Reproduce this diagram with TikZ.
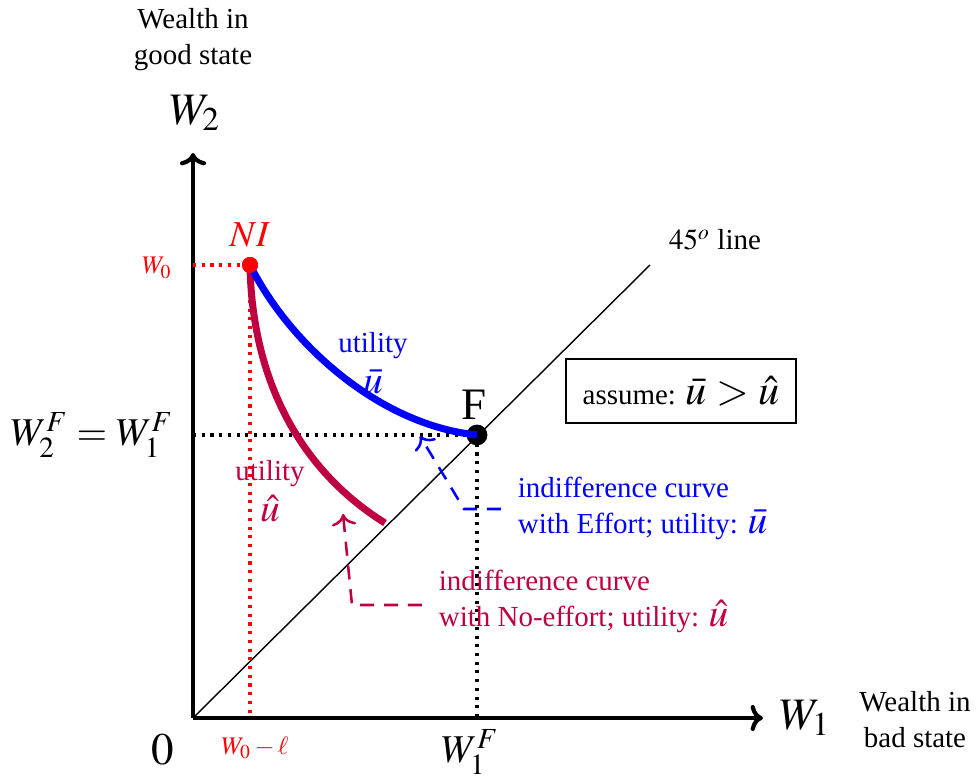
\documentclass[tikz,border=0pt]{standalone}
\usepackage{mathptmx}
\usepackage[no-math]{fontspec}
\setmainfont{Liberation Serif}
\usetikzlibrary{positioning,arrows.meta}
\begin{document}
\begin{tikzpicture}[x=0.0125cm,y=-0.0125cm,
  axis/.style={line width=1.5pt,-{To[scale=0.9]}},
  guide/.style={dotted,line width=1.1pt},
  dot/.style={circle,fill=#1,inner sep=0pt},
  curve/.style={line width=2.5pt,#1},
  hint/.style={line width=0.9pt,dash pattern=on 5pt off 3.5pt,-{To[scale=1.15]},shorten <=2.5pt,#1},
  txt/.style={font=\fontsize{10.3}{12.8}\selectfont},
  big/.style={font=\fontsize{16}{18}\selectfont}]
  \useasboundingbox (0,0) rectangle (976,783);
  % axes
  \coordinate (O) at (193,718);
  \coordinate (ytop) at (193,153);
  \coordinate (xend) at (763,718);
  \draw[axis] (O) -- (ytop);
  \draw[axis] (O) -- (xend);
  \coordinate (diagend) at (650,265);
  \draw[line width=0.5pt] (O) -- (diagend);
  % points
  \node[dot=red,minimum size=0.2cm] (NI) at (250,265) {};
  \node[dot=black,minimum size=0.26cm] (F) at (477,435) {};
  \coordinate (W0y) at (193,265);
  \coordinate (W0x) at (250,718);
  \coordinate (WFy) at (193,435);
  \coordinate (WFx) at (477,718);
  \draw[guide,red] (W0y) -- (NI.center);
  \draw[guide,red] (NI.center) -- (W0x);
  \draw[guide] (WFy) -- (F.center);
  \draw[guide] (F.center) -- (WFx);
  % indifference curves
  \coordinate (uhatend) at (385,523);
  \draw[curve=purple] (NI.center) .. controls (252,380) and (300,470) .. (uhatend);
  \draw[curve=blue] (NI.center) .. controls (290,345) and (380,425) .. (F.center);
  \node[dot=red,minimum size=0.2cm] at (NI) {};
  % labels
  \node[txt,align=center] (goodstate) at (193,40) {Wealth in\\good state};
  \node[big] (W2) at (195,113) {$W_2$};
  \node[big] (W1) at (805,718) {$W_1$};
  \node[txt,align=center] (badstate) at (915,720) {Wealth in\\bad state};
  \node[big] (zero) at (163,750) {$0$};
  \node[font=\fontsize{13}{15}\selectfont,text=red] (NIlbl) at (250,235) {$NI$};
  \node[font=\fontsize{9}{11}\selectfont,text=red] (W0lbl) at (157,268) {$W_0$};
  \node[font=\fontsize{9}{11}\selectfont,text=red] (W0llbl) at (255,748) {$W_0-\ell$};
  \node[font=\fontsize{14}{16}\selectfont] (WFlbl) at (92,435) {$W_2^F=W_1^F$};
  \node[font=\fontsize{14}{16}\selectfont] (W1Flbl) at (470,752) {$W_1^F$};
  \node[big] (Flbl) at (474,405) {F};
  \node[txt] (lbl45) at (715,240) {$45^o$ line};
  \node[txt,text=blue,align=center] (ubarlbl) at (373,363)
    {utility\\[2pt]{\fontsize{14}{16}\selectfont$\bar u$}};
  \node[txt,text=purple,align=center] (uhatlbl) at (270,491)
    {utility\\[2pt]{\fontsize{14}{16}\selectfont$\hat u$}};
  \node[txt,draw,line width=0.6pt,inner sep=6pt] (assume) at (681,391)
    {assume: {\fontsize{15}{17}\selectfont$\bar u>\hat u$}};
  \node[txt,text=blue,anchor=west,align=left] (effort) at (508,508)
    {indifference curve\\with Effort; utility: {\fontsize{14}{15}\selectfont$\bar u$}};
  \node[txt,text=purple,anchor=west,align=left] (noeffort) at (429,601)
    {indifference curve\\with No-effort; utility: {\fontsize{14}{15}\selectfont$\hat u$}};
  % pointers
  \coordinate (effbend) at (464,509);
  \coordinate (efftip) at (420,436);
  \draw[hint=blue] (effort.west |- effbend) -- (effbend) -- (efftip);
  \coordinate (noeffbend) at (352,605);
  \coordinate (noefftip) at (343,514);
  \draw[hint=purple] (noeffort.west |- noeffbend) -- (noeffbend) -- (noefftip);
\end{tikzpicture}
\end{document}
